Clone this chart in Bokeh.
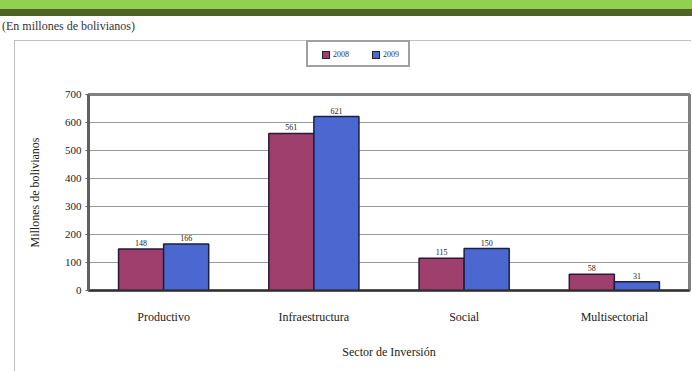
from bokeh.plotting import figure
from bokeh.models import ColumnDataSource, Div, FactorRange, LabelSet
from bokeh.layouts import column
from bokeh.transform import dodge
from bokeh.embed import file_html
from bokeh.resources import INLINE

categories = ["Productivo", "Infraestructura", "Social", "Multisectorial"]
years = ["2008", "2009"]
values_2008 = [148, 561, 115, 58]
values_2009 = [166, 621, 150, 31]
y_ticks = [0, 100, 200, 300, 400, 500, 600, 700]

FONT = "Liberation Serif"
RED = "#9E3F6E"
BLUE = "#4A68CF"
series_colors = [RED, BLUE]


def legend_item(left, color, label):
    return (
        f'<div style="position:absolute;left:{left}px;top:9px;width:8px;height:8px;'
        f'background:{color};border:1px solid #222;box-sizing:border-box"></div>'
        f'<div style="position:absolute;left:{left + 11}px;top:7px;font-family:\'Liberation Serif\';'
        f'font-size:8px;line-height:12px;color:#333">{label}</div>'
    )


legend_html = (
    '<div style="position:absolute;left:306px;top:40px;width:104px;height:27px;'
    'border:2px solid #a0a0a0;background:white;box-sizing:border-box">'
    + legend_item(14, series_colors[0], years[0])
    + legend_item(64, series_colors[1], years[1])
    + '</div>'
)

header = Div(
    text=(
        '<div style="position:relative;left:0;top:0;width:692px;height:67px;overflow:hidden">'
        '<div style="position:absolute;left:0;top:0;width:692px;height:9px;background:#92D050"></div>'
        '<div style="position:absolute;left:0;top:9px;width:692px;height:7px;background:#4F6228"></div>'
        '<div style="position:absolute;left:2px;top:18px;font-family:\'Liberation Serif\';font-size:12px;'
        'color:#333;white-space:nowrap">(En millones de bolivianos)</div>'
        '<div style="position:absolute;left:14px;top:40px;width:677px;height:27px;'
        'border-left:1px solid #c0c0c0;border-top:1px solid #c0c0c0"></div>'
        + legend_html +
        '</div>'
    ),
    width=692, height=67, margin=0,
)

src = ColumnDataSource(dict(
    cat=categories,
    v08=values_2008,
    v09=values_2009,
    t08=[str(v) for v in values_2008],
    t09=[str(v) for v in values_2009],
))

p = figure(
    x_range=FactorRange(*categories, range_padding=0.0),
    y_range=(0, 700),
    width=692, height=304,
    output_backend="svg", toolbar_location=None,
    min_border_left=88, min_border_right=3, min_border_top=27, min_border_bottom=81,
)
p.margin = 0
p.border_fill_alpha = 0
p.styles = {"background": "linear-gradient(to right, #ffffff 14px, #c0c0c0 14px, #c0c0c0 15px, #ffffff 15px)"}

p.vbar(x=dodge("cat", -0.15, range=p.x_range), top="v08", width=0.3, source=src,
       fill_color=RED, line_color="#2a1a3a", line_width=1.5)
p.vbar(x=dodge("cat", 0.15, range=p.x_range), top="v09", width=0.3, source=src,
       fill_color=BLUE, line_color="#1a1f4a", line_width=1.5)

for col, off in (("08", -0.15), ("09", 0.15)):
    lbl = LabelSet(x=dodge("cat", off, range=p.x_range), y="v" + col, text="t" + col, source=src,
                   text_align="center", text_baseline="bottom", y_offset=3,
                   text_font=FONT, text_font_size="8px", text_color="#222")
    p.add_layout(lbl)

p.yaxis.ticker = y_ticks
p.ygrid.grid_line_color = "#9a9a9a"
p.ygrid.grid_line_width = 1
p.xgrid.grid_line_color = None
p.outline_line_color = "#808080"
p.outline_line_width = 3
p.background_fill_color = "white"

p.yaxis.axis_label = "Millones de bolivianos"
p.xaxis.axis_label = "Sector de Inversión"
for ax in (p.xaxis[0], p.yaxis[0]):
    ax.axis_label_text_font = FONT
    ax.axis_label_text_font_style = "normal"
    ax.axis_label_text_font_size = "12px"
    ax.axis_label_text_color = "#222"
    ax.major_label_text_font = FONT
    ax.major_label_text_color = "#222"
    ax.minor_tick_line_color = None

p.xaxis.major_label_text_font_size = "12px"
p.yaxis.major_label_text_font_size = "11px"

p.yaxis.axis_line_color = "#606060"
p.yaxis.axis_line_width = 3
p.yaxis.major_tick_in = 0
p.yaxis.major_tick_out = 3
p.yaxis.major_tick_line_color = "#606060"
p.yaxis.major_label_standoff = 4
p.yaxis.axis_label_standoff = 20

p.xaxis.axis_line_color = "#303030"
p.xaxis.axis_line_width = 2
p.xaxis.major_tick_line_color = None
p.xaxis.major_label_standoff = 13
p.xaxis.axis_label_standoff = 18

layout = column(header, p, spacing=0)
open("out.html", "w").write(file_html(layout, INLINE))
